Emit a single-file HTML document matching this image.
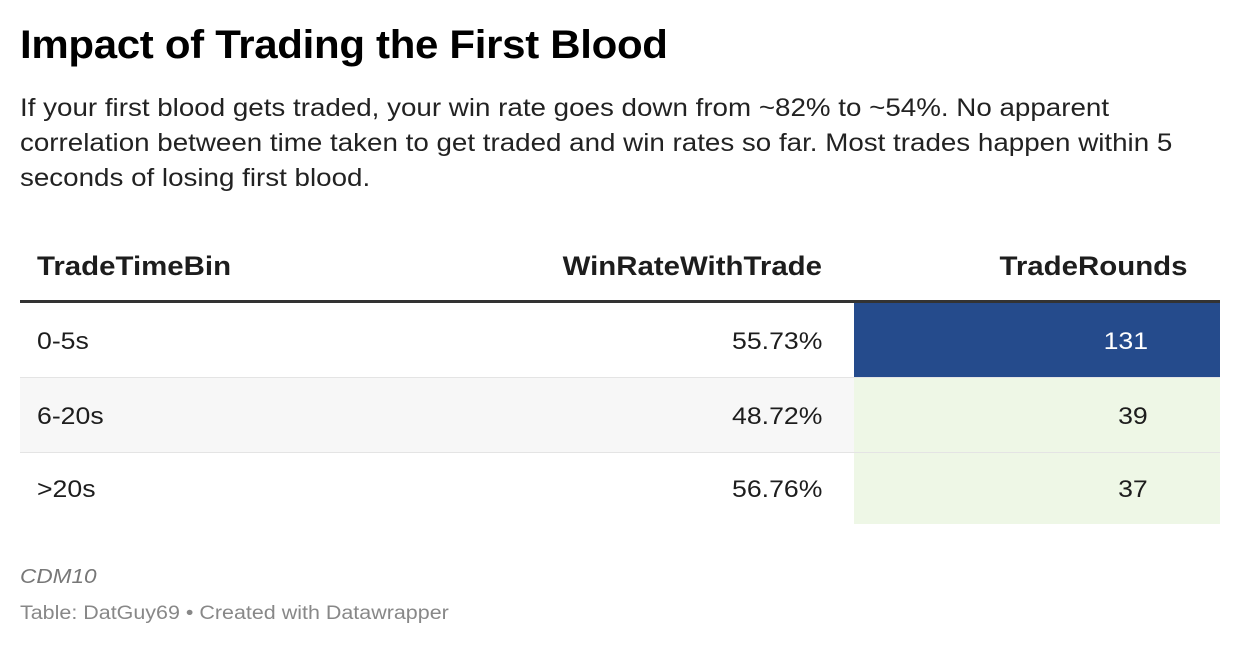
<!DOCTYPE html>
<html><head><meta charset="utf-8"><style>
body{margin:0;width:1240px;height:648px;background:#fff;font-family:"Liberation Sans",sans-serif;color:#1d1d1d;position:relative;overflow:hidden}
.a{position:absolute;white-space:nowrap;transform-origin:left top}
h1{position:absolute;left:20px;top:23px;margin:0;font-size:40px;font-weight:bold;color:#000;letter-spacing:-0.3px;transform:scaleX(1.05);transform-origin:left top;white-space:nowrap}
.sub{left:20px;top:91px;font-size:25px;line-height:35px;color:#222;transform:scaleX(1.11)}
.row{position:absolute;left:20px;width:1200px;height:72px;box-sizing:border-box}
.cell{position:absolute;top:0;height:100%;display:flex;align-items:center;font-size:24px;padding-top:3px;box-sizing:border-box}
.cell span{display:inline-block;transform:scaleX(1.11)}
.L span{transform-origin:left center}
.R span{transform-origin:right center}
.hd{font-weight:bold;font-size:27px;color:#1d1d1d;padding-top:0}
.hd span{transform:scaleX(1.09)}
</style></head><body>
<h1>Impact of Trading the First Blood</h1>
<div class="a sub">If your first blood gets traded, your win rate goes down from ~82% to ~54%. No apparent<br>correlation between time taken to get traded and win rates so far. Most trades happen within 5<br>seconds of losing first blood.</div>

<div class="row" style="top:230px;height:72px">
<div class="cell hd L" style="left:17px"><span>TradeTimeBin</span></div>
<div class="cell hd R" style="right:398px"><span>WinRateWithTrade</span></div>
<div class="cell hd R" style="right:32px"><span>TradeRounds</span></div>
</div>
<div class="a" style="left:20px;top:300px;width:1200px;height:3px;background:#333;z-index:5"></div>

<div id="rows"></div>

<div class="a" style="left:20px;top:566px;font-size:20px;font-style:italic;color:#777;transform:scaleX(1.13)">CDM10</div>
<div class="a" style="left:20px;top:603px;font-size:19px;color:#888;transform:scaleX(1.13)">Table: DatGuy69 • Created with Datawrapper</div>

<script>
const bins=["0-5s","6-20s",">20s"];
const winRates=["55.73%","48.72%","56.76%"];
const tradeRounds=[131,39,37];
const root=document.getElementById('rows');
const maxV=Math.max(...tradeRounds),minV=Math.min(...tradeRounds);
function col(v){
  const t=(v-minV)/(maxV-minV||1);
  if(t>0.5)return ["#254b8c","#fff"];
  const g=[238-t*12,247-t*6,230-t*12];
  return ["rgb("+g.map(Math.round).join(",")+")","#1d1d1d"];
}
bins.forEach((b,i)=>{
  const r=document.createElement('div');
  r.className='row';
  r.style.top=(303+i*74.3)+'px';
  r.style.height=(i===bins.length-1?72:75)+'px';
  r.style.background=i%2?'#f7f7f7':'#fff';
  if(i>0)r.style.borderTop='1px solid #e4e4e4';
  
  
  const c1=document.createElement('div');c1.className='cell L';c1.style.left='17px';c1.innerHTML='<span></span>';c1.firstChild.textContent=b;
  
  
  const c2=document.createElement('div');c2.className='cell R';c2.style.right='398px';c2.innerHTML='<span></span>';c2.firstChild.textContent=winRates[i];
  
  
  const [bg,fg]=col(tradeRounds[i]);
  const c3=document.createElement('div');c3.className='cell R';
  c3.style.left='834px';c3.style.width='366px';c3.style.justifyContent='flex-end';
  c3.style.paddingRight='72px';
  c3.style.background=bg;c3.style.color=fg;c3.innerHTML='<span></span>';c3.firstChild.textContent=tradeRounds[i];
  
  
  r.append(c1,c2,c3);root.appendChild(r);
});
</script>
</body></html>
